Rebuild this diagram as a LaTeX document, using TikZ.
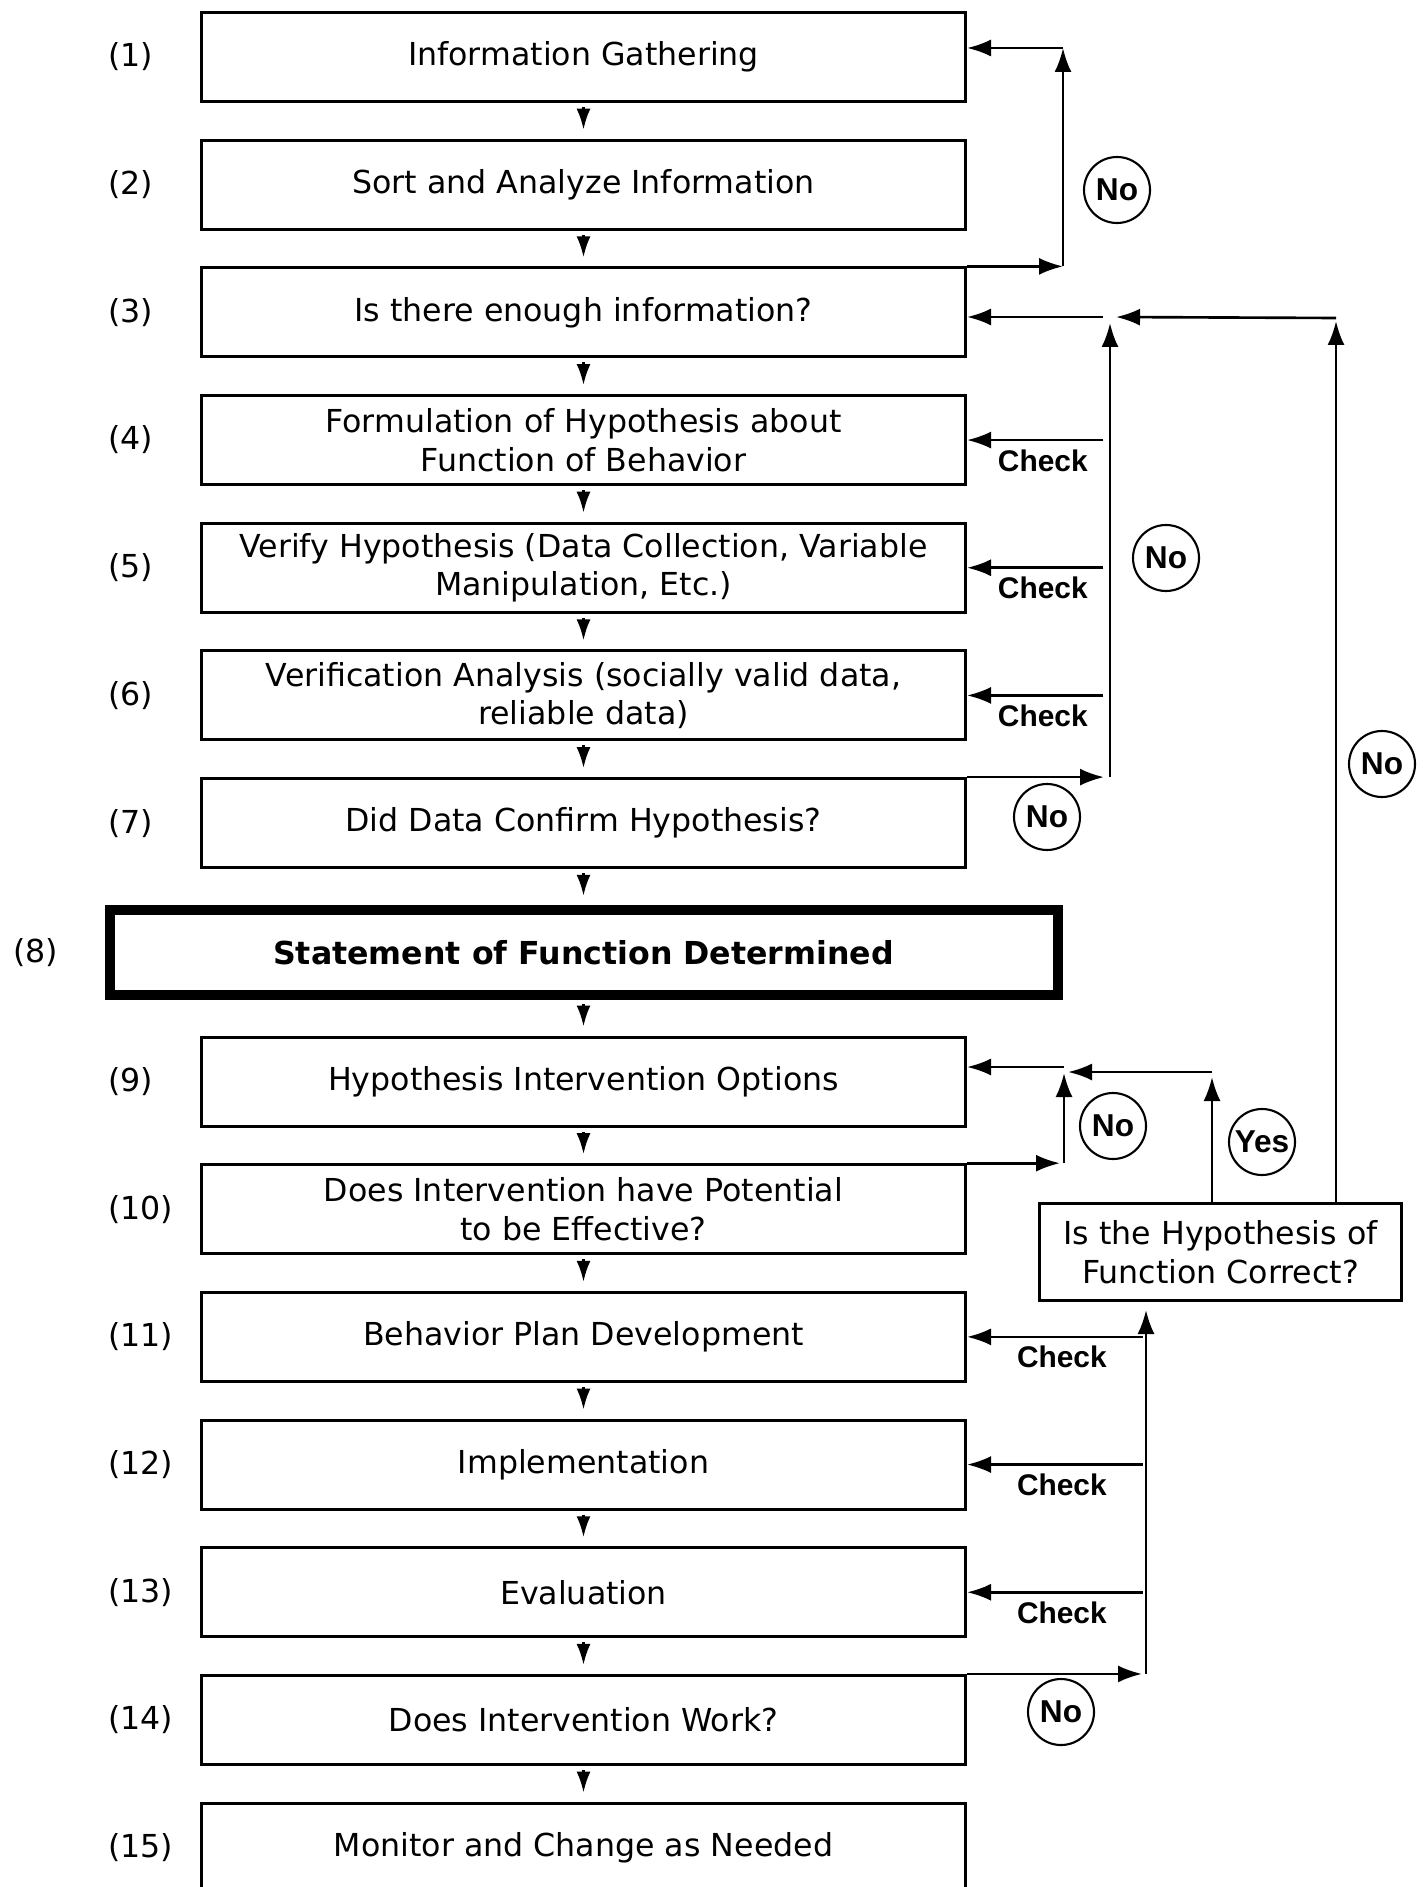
\documentclass[tikz,border=0pt]{standalone}
\usepackage{fontspec}
\setmainfont{DejaVu Sans}
\newfontfamily\tagfont{Liberation Sans}
\usetikzlibrary{arrows.meta, positioning}

\begin{document}
\begin{tikzpicture}[
  x=0.1mm, y=-0.1mm,
  node distance=3.57mm,
  box/.style={rectangle, draw=black, line width=0.85pt, align=center,
              minimum width=76.4mm, minimum height=8.9mm, inner sep=1pt,
              font=\fontsize{9}{11}\selectfont},
  mainbox/.style={box, line width=1mm, minimum width=94.8mm, minimum height=8.5mm,
                  font=\fontsize{9}{11}\selectfont\bfseries},
  hypbox/.style={box, minimum width=36.2mm, minimum height=9.7mm},
  numlbl/.style={anchor=west, font=\fontsize{9}{11}\selectfont},
  tag/.style={circle, draw=black, line width=0.6pt, minimum size=6.6mm, inner sep=0pt,
              font=\tagfont\fontsize{9}{11}\selectfont\bfseries},
  checklbl/.style={inner sep=2.3pt, font=\tagfont\fontsize{8.5}{10}\selectfont\bfseries},
  arrow/.style={-{Latex[length=2.4mm, width=1.7mm]}, line width=0.75pt},
  down/.style={-{Latex[length=2.1mm, width=1.4mm]}, line width=0.75pt,
               shorten <=0.4mm, shorten >=0.9mm}
]

\useasboundingbox (0,0) rectangle (1423,1887);

\node[box] (b1) at (583.5,57) {Information Gathering};
\node[box, below=of b1] (b2) {Sort and Analyze Information};
\node[box, below=of b2] (b3) {Is there enough information?};
\node[box, below=of b3] (b4) {Formulation of Hypothesis about\\Function of Behavior};
\node[box, below=of b4] (b5) {Verify Hypothesis (Data Collection, Variable\\Manipulation, Etc.)};
\node[box, below=of b5] (b6) {Verification Analysis (socially valid data,\\reliable data)};
\node[box, below=of b6] (b7) {Did Data Confirm Hypothesis?};
\node[mainbox, below=of b7] (b8) {Statement of Function Determined};
\node[box, below=of b8] (b9) {Hypothesis Intervention Options};
\node[box, below=of b9] (b10) {Does Intervention have Potential\\to be Effective?};
\node[box, below=of b10] (b11) {Behavior Plan Development};
\node[box, below=of b11] (b12) {Implementation};
\node[box, below=of b12] (b13) {Evaluation};
\node[box, below=of b13] (b14) {Does Intervention Work?};
\node[box, below=of b14] (b15) {Monitor and Change as Needed};

\node[hypbox] (hyp) at (1220.5,1252) {Is the Hypothesis of\\Function Correct?};

\foreach \i in {1,2,3,4,5,6,7,9,10,11,12,13,14,15}
  \node[numlbl] at (96,0 |- b\i) {(\i)};
\node[numlbl] at (1,0 |- b8) {(8)};

\node[tag] (no1) at (1117,190) {No};
\node[tag] (no2) at (1166,558) {No};
\node[tag] (no3) at (1047,817) {No};
\node[tag] (no4) at (1382,764) {No};
\node[tag] (no5) at (1113,1126) {No};
\node[tag] (yes) at (1262,1142) {Yes};
\node[tag] (no6) at (1061,1712) {No};

\coordinate (r1) at (1063,48);
\coordinate (r2) at (1110,317);
\coordinate (r3) at (1336,318);
\coordinate (r4) at (1064,1067);
\coordinate (r5) at (1212,1072);
\coordinate (r6) at (1146,0);

\foreach \a/\b in {b1/b2, b2/b3, b3/b4, b4/b5, b5/b6, b6/b7, b7/b8, b8/b9,
                   b9/b10, b10/b11, b11/b12, b12/b13, b13/b14, b14/b15}
  \draw[down] (\a) -- (\b);

\draw[arrow] (b3.north east) -- (b3.north east -| r1);
\draw[arrow] (b3.north east -| r1) -- (r1);
\draw[arrow] (r1) -- (r1 -| b1.east);

\draw[arrow, shorten >=0.6mm] (b7.north east) -- (b7.north east -| r2);
\draw[arrow, shorten >=0.6mm] (b7.north east -| r2) -- (r2);
\draw[arrow, shorten <=0.7mm] (r2) -- (r2 -| b3.east);
\draw[arrow, shorten >=0.3mm] (hyp.north -| r3) -- (r3);
\draw[arrow, shorten >=0.6mm] (r3) -- (r2);
\foreach \i in {4,5,6}
  \draw[arrow, shorten <=0.7mm] (b\i.east -| r2) -- node[checklbl, below, pos=0.47] {Check} (b\i.east);

\draw[arrow, shorten >=0.4mm] (b10.north east) -- (b10.north east -| r4);
\draw[arrow, shorten >=0.6mm] (b10.north east -| r4) -- (r4);
\draw[arrow] (r4) -- (r4 -| b9.east);
\draw[arrow, shorten >=0.5mm] (hyp.north -| r5) -- (r5);
\draw[arrow, shorten >=0.4mm] (r5) -- (r4 |- r5);

\draw[arrow, shorten >=0.4mm] (b14.north east) -- (b14.north east -| r6);
\draw[arrow, shorten >=0.8mm] (b14.north east -| r6) -- (hyp.south -| r6);
\foreach \i in {11,12,13}
  \draw[arrow, shorten <=0.3mm] (b\i.east -| r6) -- node[checklbl, below, pos=0.47] {Check} (b\i.east);

\end{tikzpicture}
\end{document}
